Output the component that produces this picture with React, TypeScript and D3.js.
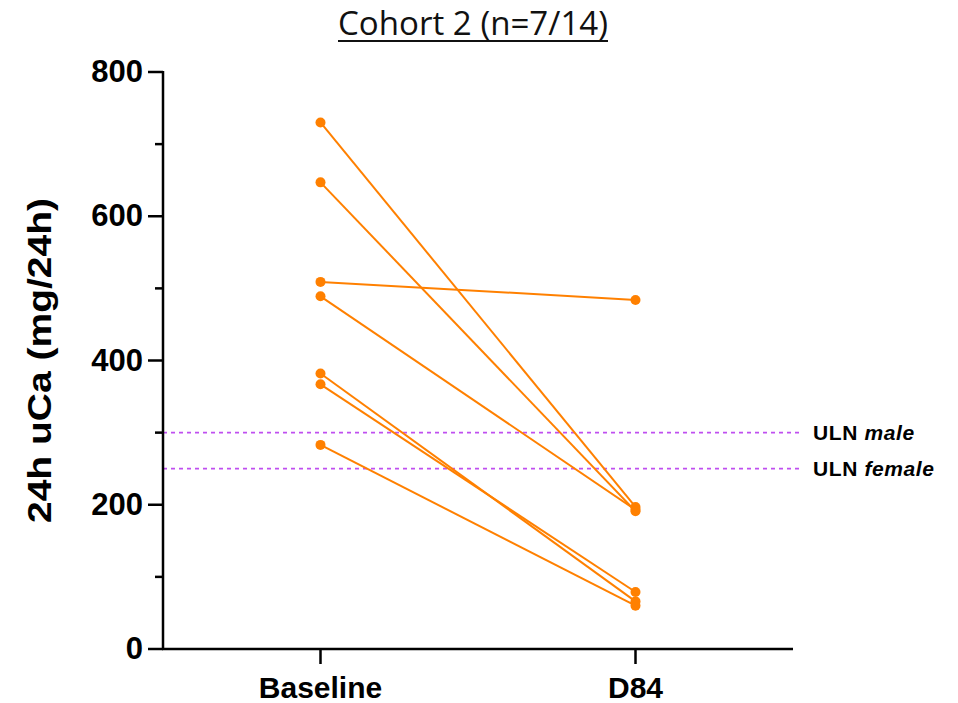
import React, { useEffect, useRef } from 'react';
import * as d3 from 'd3';

const categories = ['Baseline', 'D84'];
const baselineValues = [730, 647, 509, 489, 382, 367, 283];
const d84Values = [197, 191, 484, 193, 66, 79, 60];
const yMajorTicks = [0, 200, 400, 600, 800];
const yMinorTicks = [100, 300, 500, 700];
const ulnValues = [300, 250];
const ulnLabels = ['male', 'female'];

const App = () => {
  const ref = useRef<SVGSVGElement>(null);

  useEffect(() => {
    const width = 958;
    const height = 703;
    const svg = d3.select(ref.current);
    svg.selectAll('*').remove();
    svg.attr('width', width).attr('height', height)
      .style('background', '#fff')
      .style('position', 'absolute')
      .style('left', '0px')
      .style('top', '0px');

    const left = 163;
    const right = 793;
    const top = 72;
    const bottom = 649;
    const orange = '#FF8000';
    const purple = '#BF4FF0';
    const font = 'Liberation Sans, Arial, sans-serif';

    const x = d3.scalePoint().domain(categories).range([left, right]).padding(0.5);
    const y = d3.scaleLinear().domain([0, 800]).range([bottom, top]);

    // title
    svg.append('text')
      .attr('x', 473)
      .attr('y', 35)
      .attr('text-anchor', 'middle')
      .attr('textLength', 270)
      .attr('lengthAdjust', 'spacingAndGlyphs')
      .style('font-family', 'Open Sans, Liberation Sans, sans-serif')
      .style('font-size', '32px')
      .style('fill', '#111')
      .text('Cohort 2 (n=7/14)');
    svg.append('line')
      .attr('x1', 338).attr('x2', 608)
      .attr('y1', 41).attr('y2', 41)
      .attr('stroke', '#111').attr('stroke-width', 2);

    // ULN dashed lines
    ulnValues.forEach((v, i) => {
      svg.append('line')
        .attr('x1', left)
        .attr('x2', 800)
        .attr('y1', y(v))
        .attr('y2', y(v))
        .attr('stroke', purple)
        .attr('stroke-width', 1.8)
        .attr('stroke-dasharray', '4,4');
      const t = svg.append('text')
        .attr('x', 813)
        .attr('y', y(v) + 7)
        .style('font-family', font)
        .style('font-weight', 'bold')
        .style('font-size', '21px')
        .style('letter-spacing', '0.6px')
        .style('fill', '#000');
      t.append('tspan').text('ULN ');
      t.append('tspan').style('font-style', 'italic').text(ulnLabels[i]);
    });

    // y axis
    const yAxis = svg.append('g').attr('transform', `translate(${left},0)`);
    yAxis.append('line')
      .attr('x1', 0).attr('x2', 0)
      .attr('y1', y(800) - 1).attr('y2', bottom + 1)
      .attr('stroke', '#000').attr('stroke-width', 2.5);
    yMajorTicks.forEach(t => {
      yAxis.append('line')
        .attr('x1', -15).attr('x2', 0)
        .attr('y1', y(t)).attr('y2', y(t))
        .attr('stroke', '#000').attr('stroke-width', 2.5);
      yAxis.append('text')
        .attr('x', -20)
        .attr('y', y(t) + 10)
        .attr('text-anchor', 'end')
        .style('font-family', font)
        .style('font-weight', 'bold')
        .style('font-size', '31px')
        .text(t);
    });
    yMinorTicks.forEach(t => {
      yAxis.append('line')
        .attr('x1', -8).attr('x2', 0)
        .attr('y1', y(t)).attr('y2', y(t))
        .attr('stroke', '#000').attr('stroke-width', 2.5);
    });

    // x axis
    svg.append('line')
      .attr('x1', left - 1).attr('x2', right)
      .attr('y1', bottom).attr('y2', bottom)
      .attr('stroke', '#000').attr('stroke-width', 2.5);
    categories.forEach(c => {
      svg.append('line')
        .attr('x1', x(c)).attr('x2', x(c))
        .attr('y1', bottom).attr('y2', bottom + 15)
        .attr('stroke', '#000').attr('stroke-width', 2.5);
      svg.append('text')
        .attr('x', x(c))
        .attr('y', 698)
        .attr('text-anchor', 'middle')
        .style('font-family', font)
        .style('font-weight', 'bold')
        .style('font-size', '30px')
        .text(c);
    });

    // y label
    svg.append('text')
      .attr('transform', `translate(51,${(top + bottom) / 2}) rotate(-90)`)
      .attr('text-anchor', 'middle')
      .attr('textLength', 325)
      .attr('lengthAdjust', 'spacingAndGlyphs')
      .style('font-family', font)
      .style('font-weight', 'bold')
      .style('font-size', '34px')
      .text('24h uCa (mg/24h)');

    // paired lines
    const pairs = baselineValues.map((b, i) => [b, d84Values[i]]);
    const line = d3.line<number>()
      .x((_, i) => x(categories[i])!)
      .y(d => y(d));
    svg.selectAll('.pair')
      .data(pairs)
      .enter()
      .append('path')
      .attr('d', d => line(d))
      .attr('fill', 'none')
      .attr('stroke', orange)
      .attr('stroke-width', 2);

    pairs.forEach(p => {
      p.forEach((v, i) => {
        svg.append('circle')
          .attr('cx', x(categories[i])!)
          .attr('cy', y(v))
          .attr('r', 5)
          .attr('fill', orange);
      });
    });
  }, []);

  return <svg ref={ref}></svg>;
};

export default App;
